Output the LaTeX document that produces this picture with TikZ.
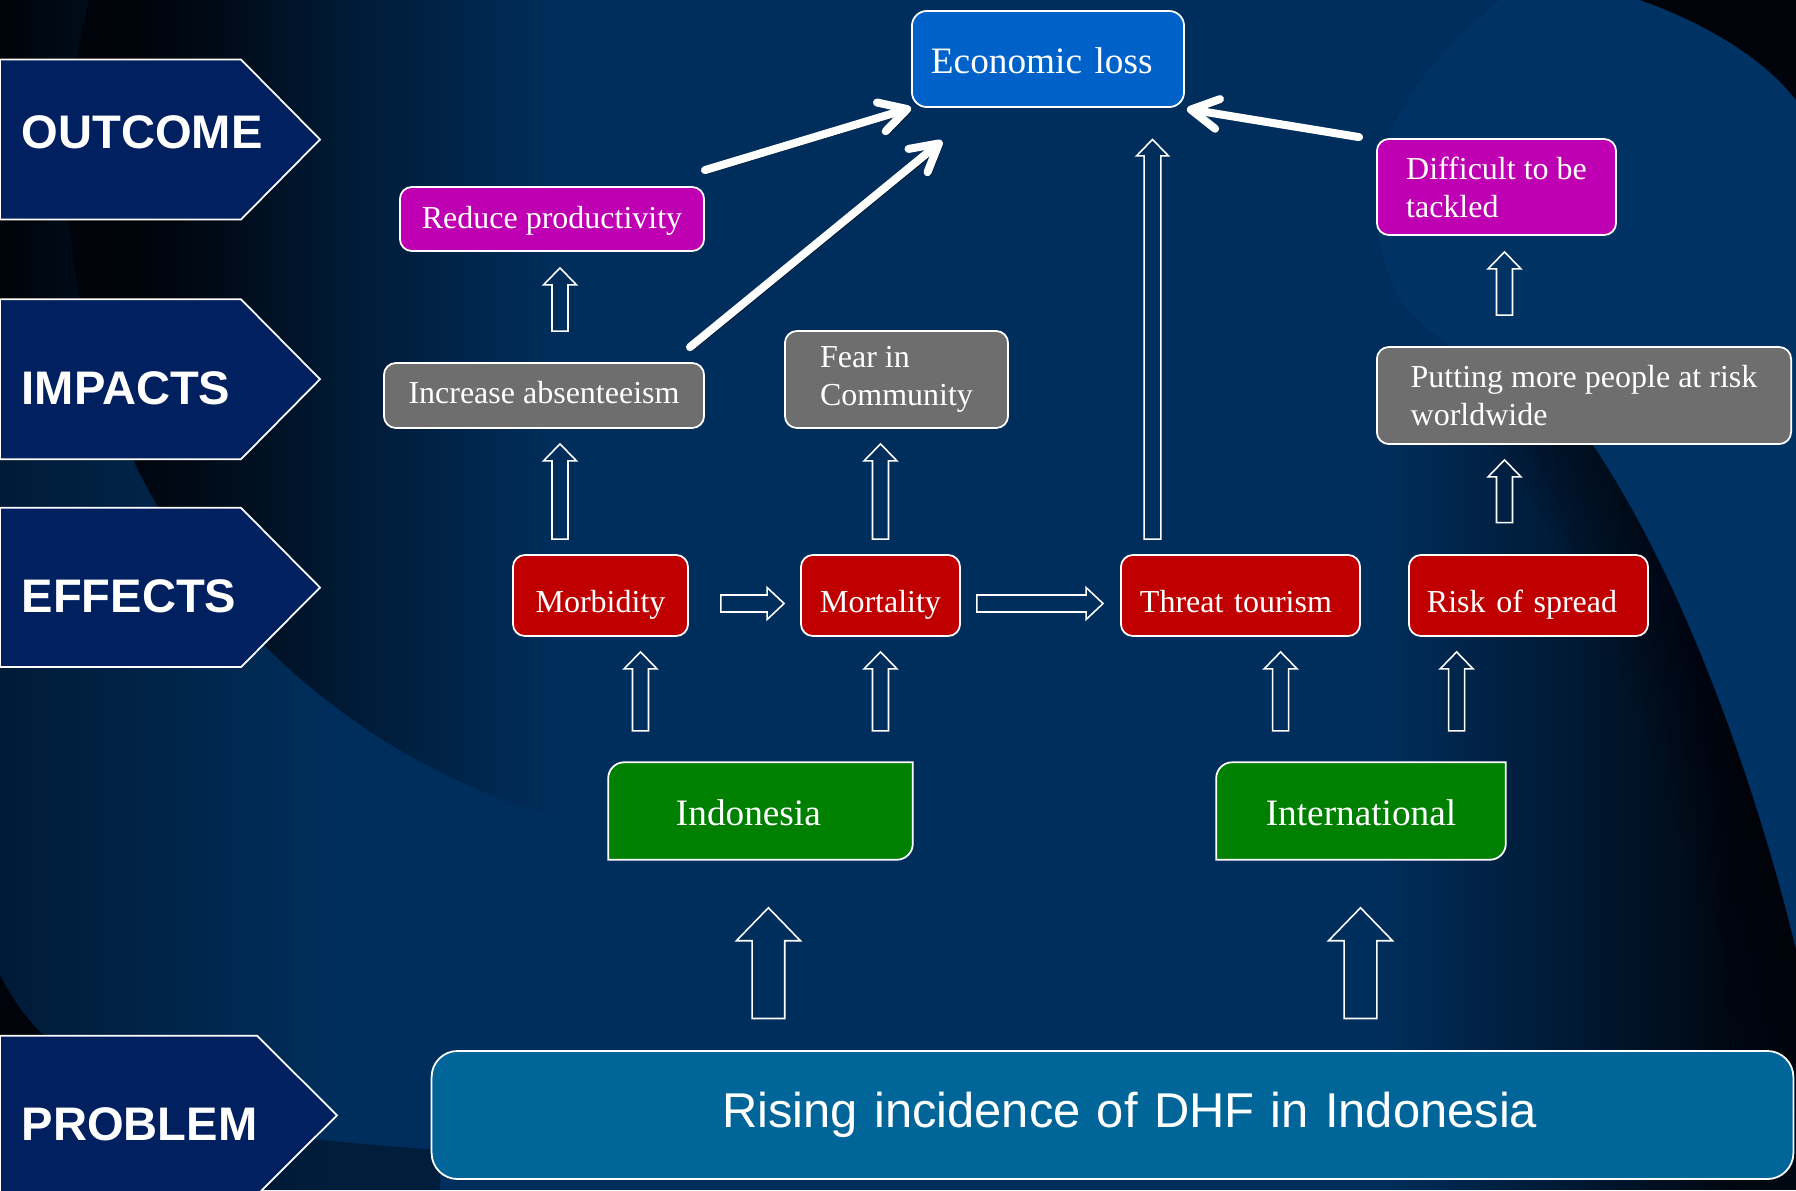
\documentclass[tikz,border=0pt]{standalone}
\usepackage{fontspec}
\setmainfont{Liberation Serif}
\newfontfamily\headfont{Liberation Sans}
\usetikzlibrary{calc,arrows.meta,fadings}

\definecolor{bgbase}{RGB}{0,46,92}
\definecolor{bglight}{RGB}{0,50,100}
\definecolor{bgblack}{RGB}{0,4,10}
\definecolor{chevnavy}{RGB}{0,32,96}
\definecolor{econblue}{RGB}{0,98,200}
\definecolor{boxmagenta}{RGB}{191,0,178}
\definecolor{boxgray}{RGB}{110,110,110}
\definecolor{boxred}{RGB}{192,0,0}
\definecolor{boxgreen}{RGB}{0,128,0}
\definecolor{probblue}{RGB}{0,102,153}

\tikzfading[name=fadetoright, left color=transparent!0, right color=transparent!100]
\tikzfading[name=fadetoleft, left color=transparent!100, right color=transparent!0]
\tikzfading[name=fadesoft, left color=transparent!0, middle color=transparent!30,
  right color=transparent!100]

\pgfdeclarelayer{backdrop}
\pgfdeclarelayer{shapes}
\pgfsetlayers{backdrop,shapes,main}

% hollow block arrow pointing up: #1 base, #2 tip (only its y is used),
% #3 half shaft width, #4 half head width, #5 head length
\newcommand\upblock[5]{%
  \draw[blockarr] let \p1=#1, \p2=#2 in
    (\x1-#3,\y1) -- (\x1-#3,\y2-#5) -- (\x1-#4,\y2-#5) -- (\x1,\y2)
    -- (\x1+#4,\y2-#5) -- (\x1+#3,\y2-#5) -- (\x1+#3,\y1) -- cycle;}
% hollow block arrow pointing right: #1 base, #2 tip (only its x is used)
\newcommand\rightblock[5]{%
  \draw[blockarr] let \p1=#1, \p2=#2 in
    (\x1,\y1-#3) -- (\x2-#5,\y1-#3) -- (\x2-#5,\y1-#4) -- (\x2,\y1)
    -- (\x2-#5,\y1+#4) -- (\x2-#5,\y1+#3) -- (\x1,\y1+#3) -- cycle;}

\begin{document}
\begin{tikzpicture}[x=0.01cm, y=-0.01cm,
  box/.style={draw=white, line width=0.5pt, rounded corners=0.12cm, text=white,
    inner sep=0pt, align=left},
  smalltext/.style={font=\fontsize{9.1pt}{10.8pt}\selectfont},
  largetext/.style={font=\fontsize{10.6pt}{12.7pt}\selectfont},
  redbox/.style={box, smalltext, fill=boxred, minimum height=0.81cm,
    text height=0.34cm, text depth=0cm},
  greenbox/.style={text=white, inner sep=0pt, largetext, minimum height=0.96cm,
    text height=0.29cm, text depth=0cm, align=left},
  greenshape/.style={fill=boxgreen, draw=white, line width=0.5pt},
  chevron/.style={fill=chevnavy, draw=white, line width=0.5pt, line join=miter},
  chevtext/.style={text=white, inner sep=0pt, anchor=base west,
    font=\headfont\bfseries\fontsize{13.4pt}{16pt}\selectfont},
  blockarr/.style={draw=white, line width=0.45pt, line join=miter},
  bigarrow/.style={draw=white, line width=0.08cm, line cap=round,
    -{Straight Barb[length=0.27cm, width=0.30cm, round]},
    preaction={draw=black, opacity=0.5,
      transform canvas={shift={(0.03cm,-0.03cm)}}}},
]
\useasboundingbox (0,0) rectangle (1796,1190);

% ---------------- backdrop ----------------
\begin{pgfonlayer}{backdrop}
  \fill[bgbase] (0,0) rectangle (1796,1190);
  % lighter sweep on the right
  \fill[bglight] (1500,0) .. controls (1400,80) and (1340,180) .. (1400,300)
    .. controls (1440,350) and (1490,370) .. (1540,380)
    .. controls (1640,480) and (1740,720) .. (1796,950) -- (1796,0) -- cycle;
  % shadow band left of the right sweep
  \begin{scope}
    \clip (1300,700) .. controls (1320,560) and (1340,470) .. (1377,440)
      -- (1540,380) .. controls (1640,480) and (1740,720) .. (1796,950)
      -- (1796,1190) -- (1300,1190) -- cycle;
    \fill[bgblack, path fading=fadetoleft, opacity=0.9] (1380,300) rectangle (1731,1190);
    \fill[bgblack, opacity=0.9] (1730,300) rectangle (1800,1190);
    \foreach \w in {0.2,0.4,...,1.6}
      \draw[bgblack, opacity=0.06, line width={\w*1cm}]
        (1440,300) -- (1540,380) .. controls (1640,480) and (1740,720) .. (1796,950)
        -- (1830,1100);
  \end{scope}
  % dark top-right corner
  \fill[bgblack] (1640,0) .. controls (1710,25) and (1765,60) .. (1796,100)
    -- (1796,0) -- cycle;
  % darkening along the left side
  \fill[bgblack, path fading=fadetoright, opacity=0.45] (0,0) rectangle (330,1190);
  \fill[bgblack, path fading=fadetoright] (0,0) rectangle (280,300);
  % shadow inside the large left arc
  \begin{scope}
    \clip (740,170) circle[radius=6.72cm];
    \fill[bgblack, path fading=fadesoft] (100,-600) rectangle (560,1190);
    \fill[bgblack] (0,-600) rectangle (101,1190);
  \end{scope}
  % bottom-left dark patches
  \fill[bgblack] (0,975) .. controls (15,1005) and (30,1022) .. (48,1040)
    -- (0,1040) -- cycle;
  \fill[bgblack, opacity=0.4] (250,1132) .. controls (330,1142) and (400,1147)
    .. (440,1150) -- (440,1190) -- (250,1190) -- cycle;
\end{pgfonlayer}

% ---------------- row labels ----------------
\path[chevron] (0,59.5) -- (241,59.5) -- (320,139.5) -- (241,219.5) -- (0,219.5) -- cycle;
\path[chevron] (0,299.3) -- (241,299.3) -- (320,379.2) -- (241,459.2) -- (0,459.2) -- cycle;
\path[chevron] (0,507.8) -- (241,507.8) -- (320,587.5) -- (241,667.1) -- (0,667.1) -- cycle;
\path[chevron] (0,1035.7) -- (257,1035.7) -- (337,1115.3) -- (257,1195) -- (0,1195) -- cycle;
\node[chevtext] (lbloutcome) at (21,148.5) {OUTCOME};
\node[chevtext] (lblimpacts) at (21,404.5) {IMPACTS};
\node[chevtext] (lbleffects) at (21,612) {EFFECTS};
\node[chevtext] (lblproblem) at (21,1140) {PROBLEM};

% ---------------- boxes ----------------
\node[box, largetext, fill=econblue, rounded corners=0.15cm,
  minimum width=2.72cm, minimum height=0.96cm, text width=2.34cm,
  text height=0.28cm, text depth=0cm] (econ) at (1048,59) {Economic loss};

\node[box, smalltext, fill=boxmagenta, minimum width=3.04cm, minimum height=0.64cm,
  text height=0.22cm, text depth=0.03cm] (redprod) at (552,219) {Reduce productivity};
\node[box, smalltext, fill=boxmagenta, minimum width=2.39cm, minimum height=0.96cm]
  (diff) at (1496.5,187) {Difficult to be\\tackled};

\node[box, smalltext, fill=boxgray, minimum width=3.20cm, minimum height=0.65cm,
  text height=0.22cm, text depth=0.06cm] (incabs) at (544,395.5) {Increase absenteeism};
\node[box, smalltext, fill=boxgray, minimum width=2.23cm, minimum height=0.97cm]
  (fear) at (896.5,379.5) {Fear in\\Community};
\node[box, smalltext, fill=boxgray, minimum width=4.14cm, minimum height=0.97cm]
  (putting) at (1584,395.5) {Putting more people at risk\\worldwide};

\node[redbox, minimum width=1.75cm] (morb) at (600.5,595.5) {Morbidity};
\node[redbox, minimum width=1.59cm] (mort) at (880.5,595.5) {Mortality};
\node[redbox, minimum width=2.39cm, text width=2.01cm] (threat) at (1240.5,595.5) {Threat tourism};
\node[redbox, minimum width=2.39cm, text width=2.03cm] (risk) at (1528.5,595.5) {Risk of spread};

\node[greenbox, minimum width=3.03cm, text width=1.69cm] (indo) at (760.5,811) {Indonesia};
\node[greenbox, minimum width=2.88cm] (intl) at (1361,811) {International};

\node[box, fill=probblue, rounded corners=0.26cm, minimum width=13.61cm,
  minimum height=1.28cm, text width=8.49cm, align=right,
  font=\headfont\fontsize{13.9pt}{16.7pt}\selectfont]
  (problem) at (1112.5,1115) {Rising incidence of DHF in Indonesia};

% green boxes: rounded on the top-left and bottom-right corners only
\begin{pgfonlayer}{shapes}
  \foreach \g in {indo,intl}
    \draw[greenshape] (\g.south west) -- ([yshift=-0.16cm]\g.north west)
      arc[start angle=180, end angle=90, radius=0.16cm] -- (\g.north east)
      -- ([yshift=0.16cm]\g.south east)
      arc[start angle=0, end angle=-90, radius=0.16cm] -- cycle;
\end{pgfonlayer}

% ---------------- hollow block arrows ----------------
\upblock{($(incabs.north)+(16,-31)$)}{($(redprod.south)+(0,16)$)}{0.08cm}{0.165cm}{0.17cm}
\upblock{($(morb.north)+(-40.5,-15)$)}{($(incabs.south)+(0,15)$)}{0.08cm}{0.165cm}{0.17cm}
\upblock{($(mort.north)+(0,-15)$)}{($(fear.south)+(0,15)$)}{0.08cm}{0.165cm}{0.17cm}
\upblock{($(threat.north)+(-88,-15)$)}{($(econ.south)+(0,31.5)$)}{0.083cm}{0.16cm}{0.165cm}
\upblock{($(putting.north)+(-79.5,-31)$)}{($(diff.south)+(0,16)$)}{0.08cm}{0.165cm}{0.17cm}
\upblock{($(risk.north)+(-24,-31.5)$)}{($(putting.south)+(0,15)$)}{0.08cm}{0.165cm}{0.17cm}
\upblock{($(indo.north)+(-120,-31.4)$)}{($(morb.south)+(0,15)$)}{0.08cm}{0.165cm}{0.17cm}
\upblock{($(indo.north)+(120,-31.4)$)}{($(mort.south)+(0,15)$)}{0.08cm}{0.165cm}{0.17cm}
\upblock{($(intl.north)+(-80.4,-31.4)$)}{($(threat.south)+(0,15)$)}{0.08cm}{0.165cm}{0.17cm}
\upblock{($(intl.north)+(95.6,-31.4)$)}{($(risk.south)+(0,15)$)}{0.08cm}{0.165cm}{0.17cm}
\upblock{($(problem.north)+(-344.1,-31.6)$)}{($(indo.south)+(0,48)$)}{0.163cm}{0.32cm}{0.33cm}
\upblock{($(problem.north)+(248,-31.6)$)}{($(intl.south)+(0,48)$)}{0.163cm}{0.32cm}{0.33cm}
\rightblock{($(morb.east)+(32,8)$)}{($(mort.west)+(-16,8)$)}{0.085cm}{0.16cm}{0.17cm}
\rightblock{($(mort.east)+(16,8)$)}{($(threat.west)+(-17,8)$)}{0.085cm}{0.16cm}{0.17cm}

% ---------------- bold arrows into the outcome ----------------
\draw[bigarrow] ([yshift=0.16cm]redprod.north east) -- (econ.south west);
\draw[bigarrow] ($(incabs.north east)+(-15,-15)$) -- ($(econ.south west)+(31,33)$);
\draw[bigarrow] ($(diff.north west)+(-17,-1)$) -- ($(econ.south east)+(2,1)$);
\end{tikzpicture}
\end{document}
